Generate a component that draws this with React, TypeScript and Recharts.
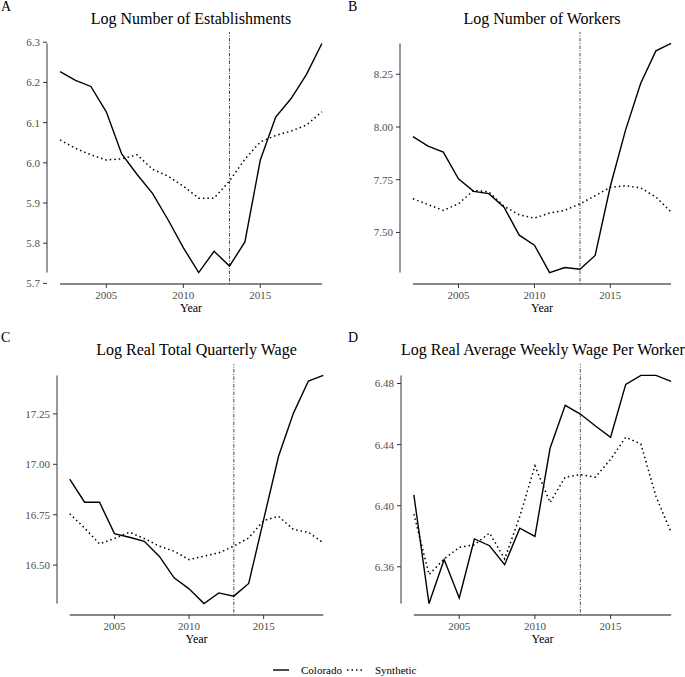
import { LineChart, Line, XAxis, YAxis, ReferenceLine } from "recharts"

const years = [2002, 2003, 2004, 2005, 2006, 2007, 2008, 2009, 2010, 2011, 2012, 2013, 2014, 2015, 2016, 2017, 2018, 2019]
const treatmentYear = 2013
const yearTicks = [2005, 2010, 2015]
const seriesNames = ["Colorado", "Synthetic"]

// A: log number of establishments
const estColorado = [6.227, 6.205, 6.19, 6.127, 6.022, 5.971, 5.924, 5.859, 5.789, 5.727, 5.78, 5.743, 5.803, 6.007, 6.114, 6.16, 6.22, 6.297]
const estSynthetic = [6.057, 6.036, 6.02, 6.007, 6.01, 6.02, 5.984, 5.967, 5.942, 5.912, 5.912, 5.955, 6.009, 6.052, 6.068, 6.079, 6.094, 6.127]
const estTicks = [5.7, 5.8, 5.9, 6.0, 6.1, 6.2, 6.3]

// B: log number of workers
const workColorado = [7.954, 7.909, 7.881, 7.754, 7.695, 7.684, 7.62, 7.487, 7.44, 7.31, 7.334, 7.326, 7.391, 7.719, 7.985, 8.207, 8.361, 8.396]
const workSynthetic = [7.66, 7.632, 7.605, 7.636, 7.7, 7.692, 7.624, 7.584, 7.568, 7.592, 7.605, 7.636, 7.674, 7.714, 7.722, 7.711, 7.668, 7.597]
const workTicks = [7.5, 7.75, 8.0, 8.25]

// C: log real total quarterly wage
const totColorado = [16.927, 16.812, 16.812, 16.656, 16.638, 16.618, 16.544, 16.437, 16.382, 16.309, 16.362, 16.346, 16.409, 16.726, 17.04, 17.254, 17.413, 17.441]
const totSynthetic = [16.755, 16.684, 16.605, 16.632, 16.663, 16.632, 16.594, 16.569, 16.527, 16.544, 16.561, 16.594, 16.635, 16.721, 16.742, 16.676, 16.663, 16.61]
const totTicks = [16.5, 16.75, 17.0, 17.25]

// D: log real average weekly wage per worker
const weekColorado = [6.4071, 6.3359, 6.3647, 6.3396, 6.3782, 6.3738, 6.3614, 6.3853, 6.3799, 6.4376, 6.4657, 6.46, 6.4522, 6.4448, 6.4794, 6.4853, 6.4853, 6.4814]
const weekSynthetic = [6.3945, 6.3549, 6.3651, 6.3727, 6.3744, 6.3821, 6.3651, 6.393, 6.4261, 6.4021, 6.4187, 6.4204, 6.4187, 6.4304, 6.4448, 6.4404, 6.406, 6.3825]
const weekTicks = [6.36, 6.4, 6.44, 6.48]

const FONT = '"Liberation Serif", "Times New Roman", serif'
const INK = "#000"
const AXIS_TEXT = "#4d4d4d"
const Y_AXIS_W = 40
const X_AXIS_H = 20
const SYNTH_DASH = "1.5 3"

const panels = [
  { letter: "A", title: "Log Number of Establishments", colorado: estColorado, synthetic: estSynthetic, ticks: estTicks, digits: 1, left: 47, right: 335, top: 32, bottom: 284, letterX: 1, row: 0 },
  { letter: "B", title: "Log Number of Workers", colorado: workColorado, synthetic: workSynthetic, ticks: workTicks, digits: 2, left: 400, right: 684, top: 32, bottom: 284, letterX: 348, row: 0 },
  { letter: "C", title: "Log Real Total Quarterly Wage", colorado: totColorado, synthetic: totSynthetic, ticks: totTicks, digits: 2, left: 57, right: 336, top: 364, bottom: 615, letterX: 1, row: 1 },
  { letter: "D", title: "Log Real Average Weekly Wage Per Worker", colorado: weekColorado, synthetic: weekSynthetic, ticks: weekTicks, digits: 2, left: 401, right: 684, top: 364, bottom: 615, letterX: 348, row: 1 },
]

// ggplot-style 5% expansion of the data range
function expand(lo: number, hi: number): [number, number] {
  const pad = (hi - lo) * 0.05
  return [lo - pad, hi + pad]
}

function Panel({ p }: { p: (typeof panels)[number] }) {
  const rows = years.map((year, i) => ({ year, colorado: p.colorado[i], synthetic: p.synthetic[i] }))
  const all = [...p.colorado, ...p.synthetic]
  const lo = Math.min(...all)
  const hi = Math.max(...all)
  const yDomain = expand(lo, hi)
  const xDomain = expand(years[0], years[years.length - 1])
  const plotW = p.right - p.left
  const plotH = p.bottom - p.top
  const rowShift = p.row * 331
  const tickStyle = { fontFamily: FONT, fontSize: 11, fill: AXIS_TEXT }

  return (
    <>
      <div style={{ position: "absolute", left: p.letterX, top: rowShift, fontSize: 14, lineHeight: 1 }}>{p.letter}</div>
      <div style={{ position: "absolute", left: p.left, width: plotW, top: 11 + rowShift, textAlign: "center", fontSize: 16, lineHeight: 1, whiteSpace: "nowrap" }}>
        {p.title}
      </div>
      <div style={{ position: "absolute", left: p.left - Y_AXIS_W, top: p.top }}>
        <LineChart width={Y_AXIS_W + plotW} height={plotH + X_AXIS_H} data={rows} margin={{ top: 0, right: 0, bottom: 0, left: 0 }}>
          <XAxis
            dataKey="year"
            type="number"
            domain={xDomain}
            ticks={yearTicks}
            interval={0}
            allowDataOverflow
            height={X_AXIS_H}
            axisLine={false}
            tickLine={{ stroke: "#333" }}
            tickSize={4}
            tickMargin={3}
            tick={tickStyle}
          />
          <YAxis
            type="number"
            domain={yDomain}
            ticks={p.ticks}
            interval={0}
            allowDataOverflow
            width={Y_AXIS_W}
            axisLine={false}
            tickLine={{ stroke: "#333" }}
            tickSize={4}
            tickMargin={3}
            tick={tickStyle}
            tickFormatter={(v: number) => v.toFixed(p.digits)}
          />
          {/* range frame: axis lines only span the data */}
          <ReferenceLine segment={[{ x: xDomain[0], y: lo }, { x: xDomain[0], y: hi }]} stroke="#333" strokeWidth={1} ifOverflow="visible" />
          <ReferenceLine segment={[{ x: years[0], y: yDomain[0] }, { x: years[years.length - 1], y: yDomain[0] }]} stroke="#111" strokeWidth={1} ifOverflow="visible" />
          <ReferenceLine x={treatmentYear} stroke="#222" strokeWidth={0.8} strokeDasharray="1 1.5 3.5 1.5" />
          <Line dataKey="colorado" name={seriesNames[0]} stroke={INK} strokeWidth={1.4} dot={false} isAnimationActive={false} />
          <Line dataKey="synthetic" name={seriesNames[1]} stroke={INK} strokeWidth={1.5} strokeDasharray={SYNTH_DASH} dot={false} isAnimationActive={false} />
        </LineChart>
      </div>
      <div style={{ position: "absolute", left: p.left, width: plotW, top: 302 + rowShift, textAlign: "center", fontSize: 12, lineHeight: 1 }}>Year</div>
    </>
  )
}

export default function App() {
  return (
    <div style={{ position: "absolute", left: 0, top: 0, width: 685, height: 677, background: "#fff", fontFamily: FONT, color: "#000" }}>
      {panels.map((p) => (
        <Panel key={p.letter} p={p} />
      ))}
      <div style={{ position: "absolute", left: 273, top: 664, height: 12, display: "flex", alignItems: "center", fontSize: 11, lineHeight: 1 }}>
        {seriesNames.map((name, i) => (
          <div key={name} style={{ display: "flex", alignItems: "center", marginLeft: i === 0 ? 0 : 5 }}>
            <svg width={16} height={6} style={{ marginRight: 12 }}>
              <line x1={0} y1={3} x2={16} y2={3} stroke={INK} strokeWidth={i === 0 ? 1.4 : 1.5} strokeDasharray={i === 0 ? undefined : SYNTH_DASH} />
            </svg>
            <span>{name}</span>
          </div>
        ))}
      </div>
    </div>
  )
}
